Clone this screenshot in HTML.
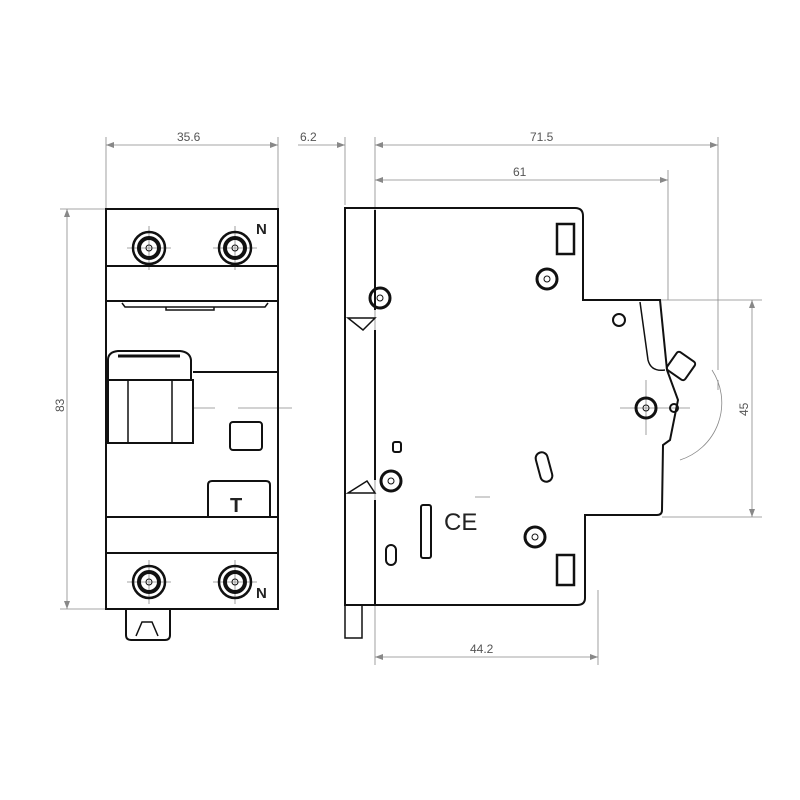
<!DOCTYPE html>
<html><head><style>body{margin:0;background:#fff}svg{display:block}text{font-family:"Liberation Sans",sans-serif;font-size:12px;fill:#555}</style></head><body>
<svg width="800" height="800" viewBox="0 0 800 800" xmlns="http://www.w3.org/2000/svg">
<g stroke="#888" stroke-width="0.8" fill="none">
<line x1="106" y1="137" x2="106" y2="209"/><line x1="278" y1="137" x2="278" y2="209"/>
<line x1="106" y1="145" x2="278" y2="145"/>
<line x1="60" y1="209" x2="106" y2="209"/><line x1="60" y1="609" x2="106" y2="609"/>
<line x1="67" y1="209" x2="67" y2="609"/>
<line x1="345" y1="137" x2="345" y2="205"/><line x1="375" y1="137" x2="375" y2="665"/>
<line x1="298" y1="145" x2="345" y2="145"/><line x1="375" y1="145" x2="718" y2="145"/>
<line x1="718" y1="137" x2="718" y2="370"/><line x1="718" y1="380" x2="718" y2="390"/>
<line x1="668" y1="170" x2="668" y2="300"/><line x1="375" y1="180" x2="668" y2="180"/>
<line x1="585" y1="300" x2="762" y2="300"/><line x1="662" y1="517" x2="762" y2="517"/>
<line x1="752" y1="300" x2="752" y2="517"/>
<line x1="598" y1="590" x2="598" y2="665"/><line x1="375" y1="657" x2="598" y2="657"/>
<path d="M712 370 A 60 60 0 0 1 680 460"/>
<line x1="193" y1="408" x2="215" y2="408"/><line x1="238" y1="408" x2="292" y2="408"/>
<line x1="620" y1="408" x2="690" y2="408"/><line x1="646" y1="380" x2="646" y2="435"/>
<line x1="475" y1="497" x2="490" y2="497"/>
<path d="M127 248 h44 M149 226 v44 M213 248 h44 M235 226 v44 M127 582 h44 M149 560 v44 M213 582 h44 M235 560 v44"/>
</g>
<g fill="#888">
<path d="M106 145 l8 -3 v6z"/><path d="M278 145 l-8 -3 v6z"/>
<path d="M67 209 l-3 8 h6z"/><path d="M67 609 l-3 -8 h6z"/>
<path d="M345 145 l-8 -3 v6z"/><path d="M375 145 l8 -3 v6z"/><path d="M718 145 l-8 -3 v6z"/>
<path d="M375 180 l8 -3 v6z"/><path d="M668 180 l-8 -3 v6z"/>
<path d="M752 300 l-3 8 h6z"/><path d="M752 517 l-3 -8 h6z"/>
<path d="M375 657 l8 -3 v6z"/><path d="M598 657 l-8 -3 v6z"/>
</g>
<text x="177" y="141">35.6</text>
<text x="300" y="141">6.2</text>
<text x="530" y="141">71.5</text>
<text x="513" y="176">61</text>
<text x="470" y="653">44.2</text>
<text transform="translate(64,412) rotate(-90)">83</text>
<text transform="translate(748,416) rotate(-90)">45</text>
<g stroke="#111" stroke-width="2" fill="none">
<rect x="106" y="209" width="172" height="400"/>
<line x1="106" y1="266" x2="278" y2="266"/>
<line x1="106" y1="301" x2="278" y2="301"/>
<path d="M122 303 l3 4 h140 l3 -4" stroke-width="1.5"/>
<path d="M166 307 v3 h48 v-3" stroke-width="1.5"/>
<line x1="193" y1="372" x2="278" y2="372"/>
<path d="M108 360 q0 -8 10 -9 h62 q10 1 11 9 v20 h-83z"/>
<path d="M118 356 h62" stroke-width="3"/>
<rect x="108" y="380" width="85" height="63"/>
<path d="M128 380 v63 M172 380 v63" stroke-width="1.5"/>
<rect x="230" y="422" width="32" height="28" rx="3"/>
<path d="M208 517 v-32 q0 -4 4 -4 h54 q4 0 4 4 v32"/>
<line x1="106" y1="517" x2="278" y2="517"/>
<line x1="106" y1="553" x2="278" y2="553"/>
<path d="M126 609 v26 q0 5 5 5 h34 q5 0 5 -5 v-26"/>
<path d="M136 636 l6 -14 h10 l6 14" stroke-width="1.5"/>
</g>
<g fill="none" stroke="#111">
<circle cx="149" cy="248" r="16" stroke-width="2.5"/><circle cx="149" cy="248" r="10" stroke-width="4"/><circle cx="149" cy="248" r="3"/>
<circle cx="235" cy="248" r="16" stroke-width="2.5"/><circle cx="235" cy="248" r="10" stroke-width="4"/><circle cx="235" cy="248" r="3"/>
<circle cx="149" cy="582" r="16" stroke-width="2.5"/><circle cx="149" cy="582" r="10" stroke-width="4"/><circle cx="149" cy="582" r="3"/>
<circle cx="235" cy="582" r="16" stroke-width="2.5"/><circle cx="235" cy="582" r="10" stroke-width="4"/><circle cx="235" cy="582" r="3"/>
</g>
<text x="256" y="234" style="font-size:15px;font-weight:bold;fill:#222">N</text>
<text x="256" y="598" style="font-size:15px;font-weight:bold;fill:#222">N</text>
<text x="230" y="512" style="font-size:20px;font-weight:bold;fill:#222">T</text>
<g stroke="#111" stroke-width="2" fill="none">
<path d="M345 605 V208 h230 q8 0 8 8 V300 H660 L667 370 L678 400 L670 440 L663 445 L662 510 q0 5 -5 5 H585 V598 q0 7 -8 7 Z"/>
<path d="M375 210 V310 M375 330 V480 M375 500 V605"/>
<path d="M348 318 h27 l-12 12 z" stroke-width="1.5"/>
<path d="M348 493 h27 l-8 -12 z" stroke-width="1.5"/>
<path d="M345 605 v33 h17 v-33" stroke-width="1.5"/>
<path d="M640 302 L648 360 q3 12 17 10" stroke-width="1.5"/>
<rect x="557" y="224" width="17" height="30" stroke-width="2.5"/>
<rect x="557" y="555" width="17" height="30" stroke-width="2.5"/>
<rect x="393" y="442" width="8" height="10" rx="2"/>
<rect x="421" y="505" width="10" height="53" rx="2"/>
<rect x="386" y="545" width="10" height="20" rx="5"/>
<rect x="538" y="452" width="12" height="30" rx="6" transform="rotate(-15 544 467)"/>
<rect x="670" y="355" width="22" height="22" rx="3" transform="rotate(35 681 366)"/>
</g>
<g fill="none" stroke="#111">
<circle cx="380" cy="298" r="10" stroke-width="3"/><circle cx="380" cy="298" r="3"/>
<circle cx="547" cy="279" r="10" stroke-width="3"/><circle cx="547" cy="279" r="3"/>
<circle cx="619" cy="320" r="6" stroke-width="2"/>
<circle cx="646" cy="408" r="10" stroke-width="3"/><circle cx="646" cy="408" r="3"/>
<circle cx="391" cy="481" r="10" stroke-width="3"/><circle cx="391" cy="481" r="3"/>
<circle cx="535" cy="537" r="10" stroke-width="3"/><circle cx="535" cy="537" r="3"/>
<circle cx="674" cy="408" r="4" stroke-width="2"/>
</g>
<text x="444" y="530" style="font-size:24px;fill:#222">CE</text>
</svg>
</body></html>
